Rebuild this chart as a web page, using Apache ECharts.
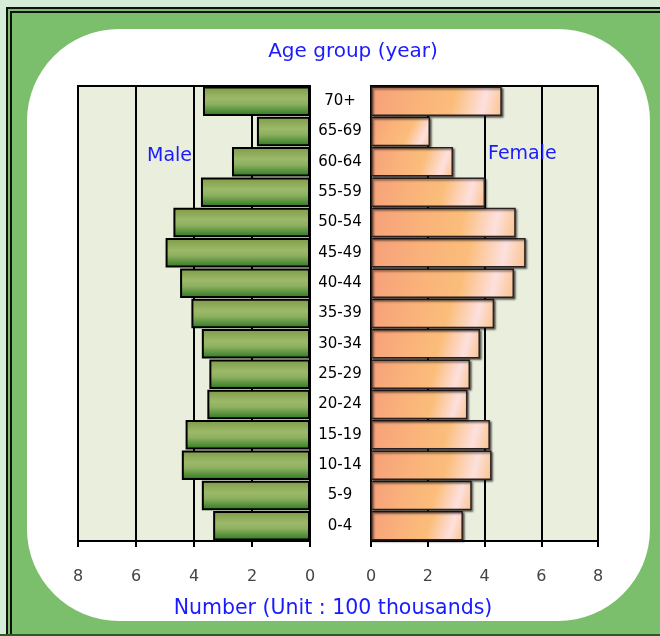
<!DOCTYPE html>
<html>
<head>
<meta charset="utf-8">
<script src="https://cdn.jsdelivr.net/npm/echarts@6/dist/echarts.min.js"></script>
<style>html,body{margin:0;padding:0;background:#d5ecd9;}#c{width:660px;height:636px;}</style>
</head>
<body>
<div id="c"></div>
<script>
var categories = ['0-4','5-9','10-14','15-19','20-24','25-29','30-34','35-39','40-44','45-49','50-54','55-59','60-64','65-69','70+'];
var maleValues = [3.34, 3.73, 4.42, 4.29, 3.54, 3.47, 3.73, 4.09, 4.48, 4.98, 4.71, 3.76, 2.69, 1.83, 3.69];
var femaleValues = [3.24, 3.55, 4.25, 4.19, 3.40, 3.49, 3.84, 4.34, 5.04, 5.45, 5.10, 4.02, 2.89, 2.08, 4.61];
var xTicks = [0, 2, 4, 6, 8];

var font = '"DejaVu Sans"';
var chart = echarts.init(document.getElementById('c'), null, {renderer: 'canvas'});

var maleFill = new echarts.graphic.LinearGradient(0, 0, 0, 1, [
  {offset: 0, color: '#7d9a45'},
  {offset: 0.4, color: '#9cb96a'},
  {offset: 0.6, color: '#8db05f'},
  {offset: 1, color: '#2a7721'}
]);
var femaleFill = new echarts.graphic.LinearGradient(0, 0, 1, 1, [
  {offset: 0, color: '#f6a07a'},
  {offset: 0.35, color: '#fab27a'},
  {offset: 0.62, color: '#fbbd7a'},
  {offset: 0.85, color: '#fde0de'},
  {offset: 1, color: '#fac38c'}
]);

function xAxisFor(gi, inverse) {
  return {
    type: 'value', gridIndex: gi, min: 0, max: 8, interval: 2, inverse: inverse,
    position: 'bottom',
    axisLine: {show: true, onZero: false, lineStyle: {color: '#000', width: 2}},
    axisTick: {show: true, length: 6, lineStyle: {color: '#000', width: 2}},
    axisLabel: {show: true, margin: 28, color: '#444', fontFamily: font, fontSize: 16,
      formatter: function (v) { return xTicks.indexOf(v) >= 0 ? String(v) : ''; }},
    splitLine: {show: true, lineStyle: {color: '#000', width: 2}}
  };
}

chart.setOption({
  animation: false,
  backgroundColor: '#d5ecd9',
  graphic: [
    {type: 'rect', z: -10, shape: {x: 6, y: 7, width: 660, height: 630}, style: {fill: '#111'}},
    {type: 'rect', z: -9, shape: {x: 8, y: 9, width: 660, height: 625}, style: {fill: '#7bbf6c'}},
    {type: 'rect', z: -8, shape: {x: 10, y: 11, width: 660, height: 623}, style: {fill: '#111'}},
    {type: 'rect', z: -7, shape: {x: 12, y: 13, width: 660, height: 621}, style: {fill: '#7bbf6c'}},
    {type: 'rect', z: -6, shape: {x: 0, y: 634, width: 660, height: 2}, style: {fill: '#2d5a2a'}},
    {type: 'rect', z: -5, shape: {x: 27, y: 29, width: 623, height: 592, r: 92}, style: {fill: '#ffffff'}},
    {type: 'text', z: 10, style: {text: 'Age group (year)', x: 353, y: 52, align: 'center', verticalAlign: 'middle', fill: '#1a1aff', font: '20px "DejaVu Sans"'}},
    {type: 'text', z: 10, style: {text: 'Male', x: 147, y: 156, align: 'left', verticalAlign: 'middle', fill: '#1a1aff', font: '19px "DejaVu Sans"'}},
    {type: 'text', z: 10, style: {text: 'Female', x: 488, y: 154, align: 'left', verticalAlign: 'middle', fill: '#1a1aff', font: '19px "DejaVu Sans"'}},
    {type: 'text', z: 10, style: {text: 'Number (Unit : 100 thousands)', x: 333, y: 609, align: 'center', verticalAlign: 'middle', fill: '#1a1aff', font: '20.5px "DejaVu Sans"'}}
  ],
  grid: [
    {left: 78, right: 350, top: 86, bottom: 95, show: true, backgroundColor: '#e9eedd', borderColor: '#000', borderWidth: 2},
    {left: 371, right: 62, top: 86, bottom: 95, show: true, backgroundColor: '#e9eedd', borderColor: '#000', borderWidth: 2}
  ],
  xAxis: [xAxisFor(0, true), xAxisFor(1, false)],
  yAxis: [
    {type: 'category', gridIndex: 0, data: categories, position: 'right',
      axisLine: {show: false}, axisTick: {show: false},
      axisLabel: {show: true, align: 'center', margin: 30, color: '#000', fontFamily: font, fontSize: 15}},
    {type: 'category', gridIndex: 1, data: categories,
      axisLine: {show: false}, axisTick: {show: false}, axisLabel: {show: false}}
  ],
  series: [
    {name: 'Male', type: 'bar', xAxisIndex: 0, yAxisIndex: 0, data: maleValues, barCategoryGap: '3%',
      itemStyle: {color: maleFill, borderColor: '#000', borderWidth: 2}},
    {name: 'Female', type: 'bar', xAxisIndex: 1, yAxisIndex: 1, data: femaleValues, barCategoryGap: '3%',
      itemStyle: {color: femaleFill, borderColor: '#2b1f1f', borderWidth: 1.5,
        shadowColor: 'rgba(0,0,0,0.55)', shadowBlur: 2, shadowOffsetX: 1.5, shadowOffsetY: 1.5}}
  ]
});
</script>
</body>
</html>
